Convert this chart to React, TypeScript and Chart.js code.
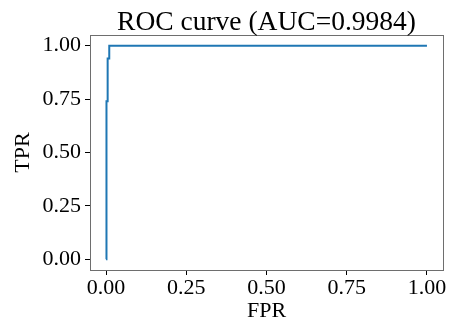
import React, { useEffect, useRef } from "react";
import { Chart, registerables } from "chart.js";

Chart.register(...registerables);

const fpr = [0, 0, 0.002, 0.002, 0.005, 0.005, 0.01, 0.01, 1];
const tpr = [0, 0.63, 0.63, 0.74, 0.74, 0.94, 0.94, 1, 1];
const xTicks = [0, 0.25, 0.5, 0.75, 1];
const yTicks = [0, 0.25, 0.5, 0.75, 1];
const titleText = "ROC curve (AUC=0.9984)";
const xLabel = "FPR";
const yLabel = "TPR";

const FONT = "'Liberation Serif', 'Times New Roman', serif";

const textPlugin = {
  id: "textPlugin",
  afterDraw(chart: any) {
    const { ctx, chartArea } = chart;
    const cx = (chartArea.left + chartArea.right) / 2;
    const cy = (chartArea.top + chartArea.bottom) / 2;
    ctx.save();
    ctx.strokeStyle = "#6e6e6e";
    ctx.lineWidth = 1;
    ctx.strokeRect(
      Math.round(chartArea.left) + 0.5,
      Math.round(chartArea.top) + 0.5,
      Math.round(chartArea.right - chartArea.left),
      Math.round(chartArea.bottom - chartArea.top)
    );
    ctx.fillStyle = "#000";
    ctx.textAlign = "center";
    ctx.textBaseline = "alphabetic";
    ctx.font = `27.5px ${FONT}`;
    ctx.fillText(titleText, cx, 30);
    ctx.font = `22px ${FONT}`;
    ctx.fillText(xLabel, cx, 317);
    ctx.translate(29, cy);
    ctx.rotate(-Math.PI / 2);
    ctx.fillText(yLabel, 0, 0);
    ctx.restore();
  },
};

export default function App() {
  const ref = useRef<HTMLCanvasElement>(null);
  useEffect(() => {
    if (!ref.current) return;
    const chart = new Chart(ref.current, {
      type: "scatter",
      data: {
        datasets: [
          {
            data: fpr.map((x, i) => ({ x, y: tpr[i] })),
            showLine: true,
            borderColor: "#1f77b4",
            borderWidth: 2,
            pointRadius: 0,
            fill: false,
            tension: 0,
          },
        ],
      },
      options: {
        responsive: false,
        animation: false,
        layout: { padding: { top: 35, right: 10, left: 0, bottom: 0 } },
        plugins: { legend: { display: false }, tooltip: { enabled: false }, title: { display: false } },
        scales: {
          x: {
            type: "linear",
            min: -0.05,
            max: 1.05,
            afterBuildTicks: (s: any) => {
              s.ticks = xTicks.map((v) => ({ value: v }));
            },
            afterFit: (s: any) => {
              s.height = 52;
            },
            ticks: {
              color: "#000",
              font: { family: FONT, size: 22 },
              padding: 0,
              maxRotation: 0,
              autoSkip: false,
              callback: (v: any) => Number(v).toFixed(2),
            },
            grid: { display: true, drawOnChartArea: false, drawTicks: true, tickLength: 5, tickColor: "#000", tickWidth: 1 },
            border: { display: false },
          },
          y: {
            type: "linear",
            min: -0.05,
            max: 1.05,
            afterBuildTicks: (s: any) => {
              s.ticks = yTicks.map((v) => ({ value: v }));
            },
            afterFit: (s: any) => {
              s.width = 90;
            },
            ticks: {
              color: "#000",
              font: { family: FONT, size: 22 },
              padding: 4,
              autoSkip: false,
              callback: (v: any) => Number(v).toFixed(2),
            },
            grid: { display: true, drawOnChartArea: false, drawTicks: true, tickLength: 5, tickColor: "#000", tickWidth: 1 },
            border: { display: false },
          },
        },
      },
      plugins: [textPlugin],
    });
    return () => chart.destroy();
  }, []);
  return (
    <div style={{ position: "fixed", left: 0, top: 0, width: 453, height: 322, background: "#fff" }}>
      <canvas ref={ref} width={453} height={322} style={{ display: "block" }} />
    </div>
  );
}
